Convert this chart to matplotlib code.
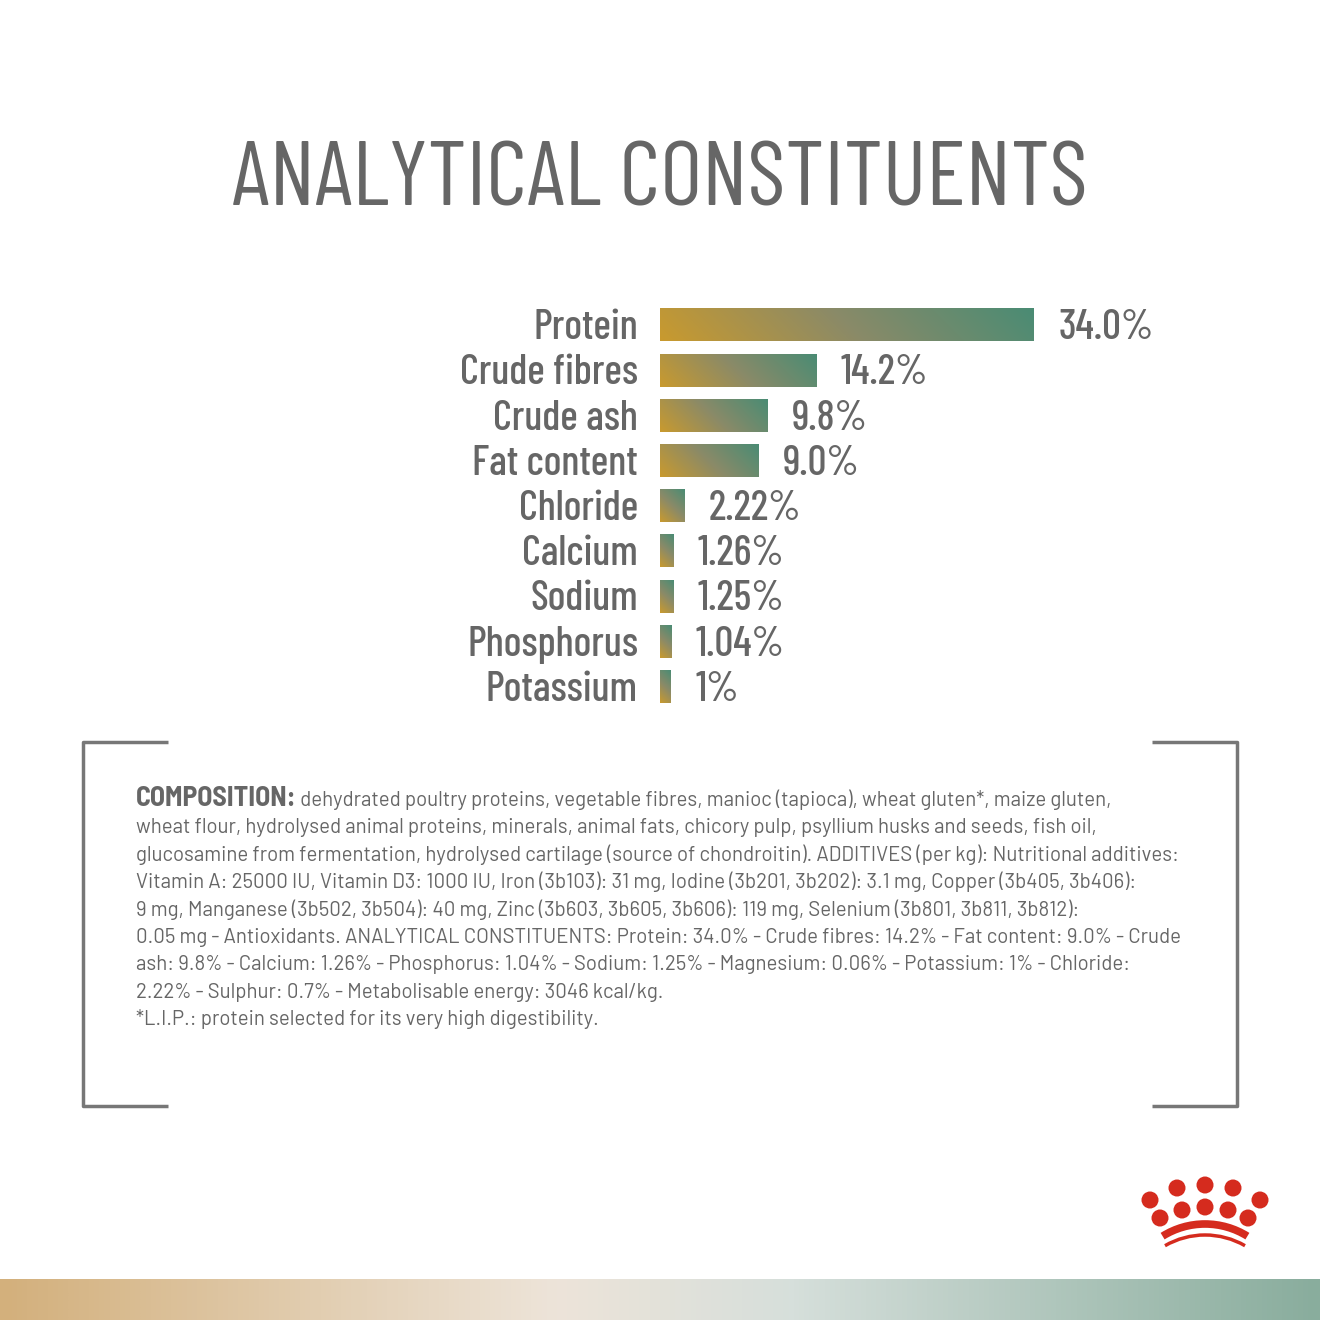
import numpy as np
import matplotlib
matplotlib.use("Agg")
import matplotlib.pyplot as plt
from matplotlib.colors import LinearSegmentedColormap
from matplotlib.patches import Circle, Arc

COND = ['Barlow Condensed', 'Roboto Condensed', 'DejaVu Sans']
BODY = ['Barlow', 'Roboto', 'DejaVu Sans']
plt.rcParams['font.family'] = COND

# data
nutrients = ['Protein', 'Crude fibres', 'Crude ash', 'Fat content', 'Chloride',
             'Calcium', 'Sodium', 'Phosphorus', 'Potassium']
values = [34.0, 14.2, 9.8, 9.0, 2.22, 1.26, 1.25, 1.04, 1.0]
value_labels = ['34.0%', '14.2%', '9.8%', '9.0%', '2.22%', '1.26%', '1.25%', '1.04%', '1%']

composition_lines = [
    " dehydrated poultry proteins, vegetable fibres, manioc (tapioca), wheat gluten*, maize gluten,",
    "wheat flour, hydrolysed animal proteins, minerals, animal fats, chicory pulp, psyllium husks and seeds, fish oil,",
    "glucosamine from fermentation, hydrolysed cartilage (source of chondroitin). ADDITIVES (per kg): Nutritional additives:",
    "Vitamin A: 25000 IU, Vitamin D3: 1000 IU, Iron (3b103): 31 mg, Iodine (3b201, 3b202): 3.1 mg, Copper (3b405, 3b406):",
    "9 mg, Manganese (3b502, 3b504): 40 mg, Zinc (3b603, 3b605, 3b606): 119 mg, Selenium (3b801, 3b811, 3b812):",
    "0.05 mg - Antioxidants. ANALYTICAL CONSTITUENTS: Protein: 34.0% - Crude fibres: 14.2% - Fat content: 9.0% - Crude",
    "ash: 9.8% - Calcium: 1.26% - Phosphorus: 1.04% - Sodium: 1.25% - Magnesium: 0.06% - Potassium: 1% - Chloride:",
    "2.22% - Sulphur: 0.7% - Metabolisable energy: 3046 kcal/kg.",
    "*L.I.P.: protein selected for its very high digestibility.",
]

GREY = '#666666'
bar_cmap = LinearSegmentedColormap.from_list(
    'bar', [(0, '#C99A2E'), (0.5, '#8A8A68'), (1, '#4A8C74')])
band_cmap = LinearSegmentedColormap.from_list(
    'band', [(0, '#D3B07C'), (0.42, '#EDE4D9'), (0.6, '#D6DFDB'), (1, '#89AD9D')])

fig = plt.figure(figsize=(13.2, 13.2), dpi=100)
fig.patch.set_facecolor('white')

# page overlay in pixel coords
pg = fig.add_axes([0, 0, 1, 1])
pg.set_xlim(0, 1320)
pg.set_ylim(1320, 0)
pg.axis('off')

pg.text(660, 205, 'ANALYTICAL CONSTITUENTS', ha='center', va='baseline',
        fontsize=66, color=GREY)

# bars
ax = fig.add_axes([0.5, 1 - 710 / 1320, 0.5, 410 / 1320])
ax.set_xlim(0, 60)
ax.set_ylim(8.518, -0.553)
ax.axis('off')

h = 0.73
px_per_unit = 660 / 60
bar_px = h * 410 / 9.071
uu, vv = np.meshgrid(np.linspace(0, 1, 300), np.linspace(0, 1, 60))
for i, (name, v, lab) in enumerate(zip(nutrients, values, value_labels)):
    w_px = v * px_per_unit
    grad = (uu * w_px + vv * bar_px) / (w_px + bar_px)  # 45 deg, gold bottom-left
    ax.imshow(grad, cmap=bar_cmap, vmin=0, vmax=1, origin='lower',
              extent=(0, v, i + h / 2, i - h / 2), aspect='auto',
              interpolation='bilinear')
    ax.text(-2.0, i + 0.07, name, ha='right', va='center', fontsize=30,
            fontweight='medium', color=GREY)
    ax.text(v + 2.2, i + 0.07, lab, ha='left', va='center', fontsize=30,
            fontweight='medium', color=GREY)
ax.set_xlim(0, 60)
ax.set_ylim(8.518, -0.553)

# brackets
bk = dict(color='#777777', lw=2.5, solid_capstyle='butt')
pg.plot([168, 83, 83, 168], [742, 742, 1106, 1106], **bk)
pg.plot([1152, 1237, 1237, 1152], [742, 742, 1106, 1106], **bk)

# composition text
t0 = pg.text(136, 806, 'COMPOSITION:', fontsize=20, fontweight='bold',
             color=GREY, va='baseline', family=['Barlow Semi Condensed'] + BODY)
fig.canvas.draw()
x_end = pg.transData.inverted().transform(t0.get_window_extent().get_points())[1][0]
pg.text(x_end, 806, composition_lines[0], fontsize=14.7, color=GREY,
        va='baseline', family=BODY)
for k, line in enumerate(composition_lines[1:], start=1):
    pg.text(136, 806 + 27.4 * k, line, fontsize=14.7, color=GREY,
            va='baseline', family=BODY)

# crown logo
red = '#D52B1E'
dots = [(1177, 1188), (1205, 1185), (1233, 1188), (1150, 1200), (1260, 1200),
        (1160, 1218), (1182, 1210), (1205, 1207), (1228, 1210), (1248, 1218)]
for cx, cy in dots:
    pg.add_patch(Circle((cx, cy), 8.5, color=red, lw=0))
pg.add_patch(Arc((1205, 1304), 160, 160, theta1=238, theta2=302, color=red, lw=5.5))
pg.add_patch(Arc((1205, 1315), 160, 160, theta1=240, theta2=300, color=red, lw=2.5))

# bottom band
pg.imshow(np.linspace(0, 1, 400)[None, :], cmap=band_cmap, aspect='auto',
          extent=(0, 1320, 1320, 1279), interpolation='bilinear')
pg.set_xlim(0, 1320)
pg.set_ylim(1320, 0)

fig.savefig('out.png', dpi=100, facecolor='white')
